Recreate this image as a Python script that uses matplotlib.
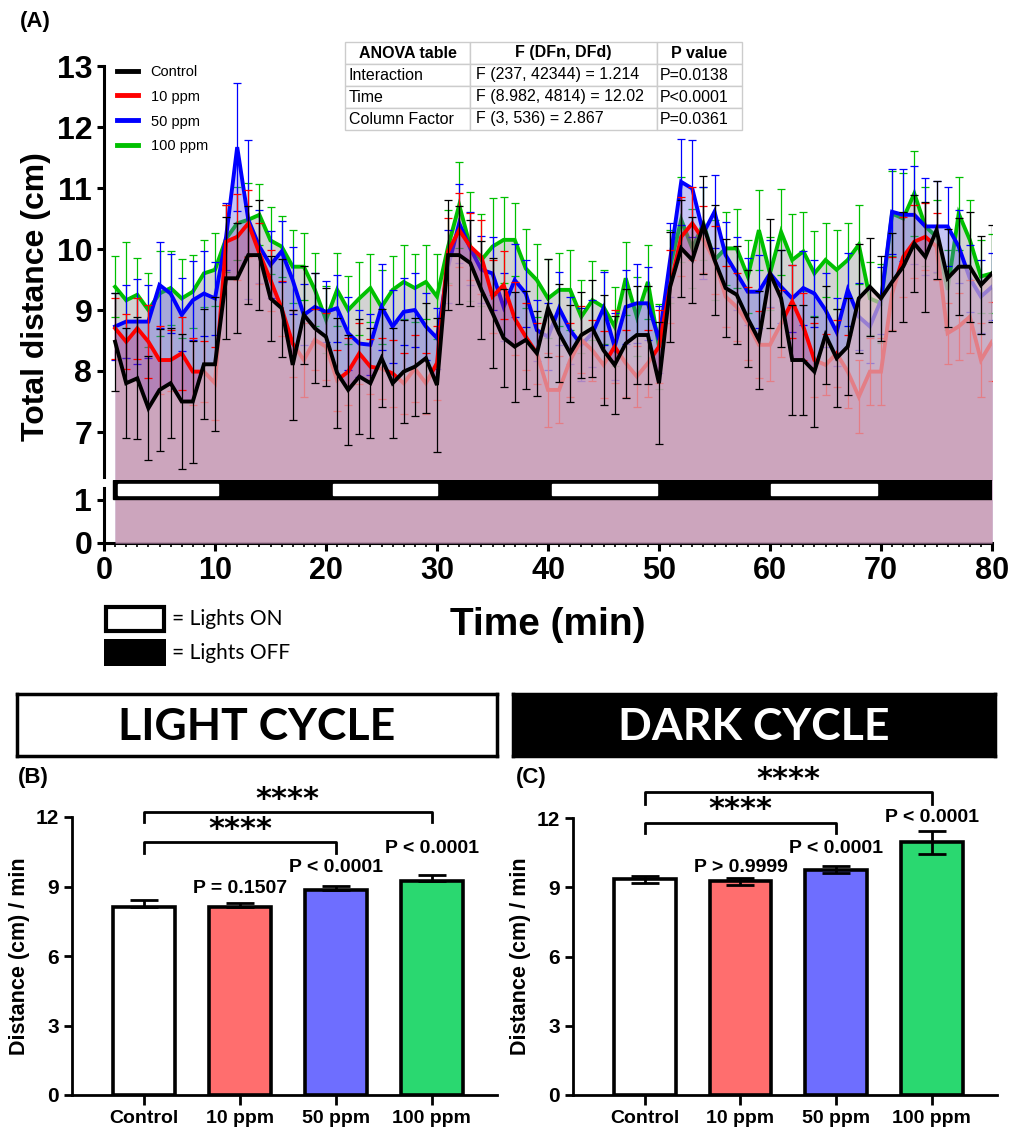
import matplotlib
matplotlib.use("Agg")
import matplotlib.pyplot as plt
from matplotlib.lines import Line2D
from matplotlib.patches import Rectangle
import numpy as np

plt.rcParams['font.family'] = ['Liberation Sans', 'DejaVu Sans']

# ---- panel A data (mean and SEM per minute) ----
minutes = list(range(1, 81))
control = [8.48, 7.80, 7.88, 7.39, 7.69, 7.80, 7.50, 7.50, 8.11, 8.11,
           9.52, 9.52, 9.90, 9.90, 9.19, 9.03, 8.10, 8.92, 8.70, 8.56,
           7.97, 7.69, 7.91, 7.80, 8.21, 7.80, 7.99, 8.07, 8.21, 7.77,
           9.90, 9.90, 9.77, 9.33, 8.95, 8.54, 8.40, 8.51, 8.29, 9.03,
           8.62, 8.29, 8.59, 8.70, 8.34, 8.10, 8.45, 8.59, 8.59, 7.80,
           9.38, 10.01, 9.82, 10.39, 9.82, 9.36, 9.25, 8.86, 8.51, 9.60,
           9.19, 8.18, 8.18, 7.99, 8.59, 8.21, 8.40, 9.19, 9.38, 9.19,
           9.46, 9.71, 10.09, 9.87, 10.31, 9.52, 9.71, 9.71, 9.41, 9.60]
ppm10 = [8.70, 8.48, 8.70, 8.48, 8.18, 8.18, 8.29, 7.99, 7.99, 7.80,
         10.12, 10.20, 10.42, 9.93, 9.49, 9.03, 8.45, 8.18, 8.51, 8.40,
         7.85, 7.99, 8.29, 8.07, 8.04, 7.96, 7.80, 8.04, 7.80, 8.13,
         9.96, 10.31, 10.04, 9.87, 9.22, 9.41, 8.86, 8.56, 8.29, 7.69,
         7.69, 8.18, 8.51, 8.34, 8.10, 8.40, 8.13, 7.91, 8.13, 8.40,
         9.38, 10.20, 10.42, 10.15, 9.82, 9.22, 9.05, 8.78, 8.43, 8.43,
         8.78, 9.14, 8.73, 8.18, 8.10, 8.29, 7.99, 7.58, 7.99, 7.99,
         9.27, 9.87, 10.12, 10.20, 10.04, 8.62, 8.73, 8.89, 8.18, 8.48]
ppm50 = [8.73, 8.81, 8.81, 8.81, 9.41, 9.27, 8.92, 9.16, 9.27, 9.19,
         10.20, 11.67, 10.48, 10.04, 9.74, 9.96, 9.49, 8.92, 9.05, 8.97,
         9.03, 8.62, 8.45, 8.43, 9.05, 8.73, 8.97, 9.00, 8.73, 8.54,
         9.71, 10.42, 10.01, 9.66, 9.60, 9.05, 9.49, 9.27, 8.67, 8.56,
         9.03, 8.67, 8.43, 8.62, 9.03, 8.40, 9.05, 9.11, 9.11, 8.51,
         9.82, 11.10, 10.99, 10.26, 10.61, 9.90, 9.60, 9.30, 9.30, 9.60,
         9.38, 9.19, 9.36, 9.27, 9.00, 8.64, 9.33, 8.89, 8.73, 9.16,
         10.61, 10.56, 10.56, 10.37, 10.37, 10.37, 10.04, 9.52, 9.22, 9.38]
ppm100 = [9.38, 9.16, 9.25, 9.00, 9.27, 9.36, 9.19, 9.30, 9.60, 9.66,
          10.17, 10.42, 10.48, 10.56, 10.14, 10.04, 9.71, 9.71, 9.33, 8.84,
          9.33, 9.00, 9.19, 9.36, 9.05, 9.33, 9.46, 9.36, 9.46, 9.22,
          10.04, 10.72, 10.04, 9.82, 10.04, 10.15, 10.15, 9.68, 9.49, 9.19,
          9.33, 9.33, 8.89, 9.16, 9.05, 8.73, 9.52, 8.89, 9.46, 8.40,
          9.71, 10.48, 10.01, 10.42, 9.82, 10.01, 10.01, 9.55, 10.31, 9.60,
          10.28, 9.82, 9.96, 9.60, 9.82, 9.66, 9.82, 10.07, 9.19, 9.11,
          10.58, 10.50, 10.91, 10.37, 10.20, 9.33, 10.58, 10.15, 9.55, 9.60]

control_err = [0.80, 0.90, 1.00, 0.85, 1.00, 0.90, 1.10, 1.00, 0.90, 1.10,
               1.00, 0.90, 0.80, 0.90, 0.70, 0.80, 0.90, 0.80, 0.90, 0.80,
               0.90, 0.90, 0.95, 0.90, 0.80, 0.90, 0.85, 0.80, 0.90, 1.10,
               0.90, 0.80, 0.70, 0.80, 0.90, 0.80, 0.90, 0.80, 0.70, 0.80,
               0.80, 0.80, 0.70, 0.80, 0.90, 0.80, 0.90, 0.80, 0.80, 1.00,
               0.90, 0.80, 0.70, 0.80, 0.90, 0.80, 0.80, 0.80, 0.80, 0.90,
               0.80, 0.90, 0.90, 0.90, 0.80, 0.80, 0.80, 0.90, 0.80, 0.70,
               0.80, 0.90, 0.80, 0.90, 0.80, 0.80, 0.80, 0.90, 0.80, 0.80]
ppm10_err = [0.50, 0.45, 0.50, 0.60, 0.55, 0.50, 0.60, 0.55, 0.50, 0.60,
             0.60, 0.70, 0.55, 0.50, 0.50, 0.45, 0.55, 0.60, 0.50, 0.55,
             0.50, 0.55, 0.50, 0.45, 0.50, 0.55, 0.50, 0.55, 0.50, 0.60,
             0.55, 0.60, 0.55, 0.60, 0.60, 0.55, 0.60, 0.55, 0.50, 0.60,
             0.55, 0.60, 0.55, 0.50, 0.55, 0.60, 0.55, 0.50, 0.55, 0.60,
             0.60, 0.65, 0.60, 0.55, 0.55, 0.50, 0.55, 0.60, 0.55, 0.60,
             0.55, 0.60, 0.55, 0.60, 0.50, 0.55, 0.60, 0.60, 0.55, 0.55,
             0.60, 0.65, 0.60, 0.55, 0.55, 0.50, 0.55, 0.60, 0.60, 0.65]
ppm50_err = [0.55, 0.60, 0.70, 0.60, 0.70, 0.65, 0.60, 0.65, 0.70, 0.60,
             0.55, 1.05, 1.30, 0.60, 0.55, 0.50, 0.55, 0.50, 0.55, 0.50,
             0.55, 0.60, 0.55, 0.50, 0.70, 0.60, 0.55, 0.60, 0.55, 0.50,
             0.60, 0.65, 0.60, 0.55, 0.60, 0.55, 0.60, 0.55, 0.50, 0.55,
             0.60, 0.55, 0.60, 0.55, 0.60, 0.55, 0.60, 0.65, 0.60, 0.55,
             0.60, 0.70, 0.80, 0.75, 0.60, 0.55, 0.60, 0.55, 0.60, 0.55,
             0.60, 0.55, 0.60, 0.55, 0.60, 0.55, 0.60, 0.55, 0.60, 0.55,
             0.70, 0.75, 0.80, 0.80, 0.75, 0.65, 0.60, 0.55, 0.60, 0.55]
ppm100_err = [0.50, 0.95, 0.60, 0.60, 0.70, 0.60, 0.65, 0.60, 0.55, 0.60,
              0.55, 0.60, 0.60, 0.50, 0.55, 0.50, 0.60, 0.55, 0.60, 0.55,
              0.60, 0.55, 0.60, 0.55, 0.60, 0.55, 0.60, 0.55, 0.60, 0.70,
              0.60, 0.70, 0.90, 0.75, 0.80, 0.70, 0.60, 0.65, 0.60, 0.65,
              0.60, 0.65, 0.60, 0.65, 0.60, 0.65, 0.60, 0.65, 0.60, 0.70,
              0.60, 0.70, 0.65, 0.60, 0.65, 0.60, 0.65, 0.60, 0.65, 0.60,
              0.70, 0.75, 0.65, 0.70, 0.60, 0.65, 0.60, 0.65, 0.60, 0.65,
              0.70, 0.75, 0.70, 0.65, 0.60, 0.65, 0.60, 0.65, 0.60, 0.65]

lights_on = [(1.3, 10.3), (20.6, 30.0), (40.4, 49.8), (60.1, 69.6)]

anova_header = ["ANOVA table", "F (DFn, DFd)", "P value"]
anova_rows = [["Interaction", "F (237, 42344) = 1.214", "P=0.0138"],
              ["Time", "F (8.982, 4814) = 12.02", "P<0.0001"],
              ["Column Factor", "F (3, 536) = 2.867", "P=0.0361"]]

# ---- panels B and C ----
groups = ["Control", "10 ppm", "50 ppm", "100 ppm"]
light_mean = [8.12, 8.12, 8.84, 9.22]
light_sem = [0.29, 0.18, 0.17, 0.29]
light_p = ["", "P = 0.1507", "P < 0.0001", "P < 0.0001"]
dark_mean = [9.35, 9.25, 9.75, 10.94]
dark_sem = [0.15, 0.14, 0.15, 0.50]
dark_p = ["", "P > 0.9999", "P < 0.0001", "P < 0.0001"]
bar_colors = ["white", "#ff6e6e", "#6e6eff", "#2ad870"]

W, H = 1024, 1131
fig = plt.figure(figsize=(W / 100, H / 100), dpi=100)


def rect(x0, y0, x1, y1):
    return [x0 / W, 1 - y1 / H, (x1 - x0) / W, (y1 - y0) / H]


ax_top = fig.add_axes(rect(104, 66, 992, 480))
ax_bot = fig.add_axes(rect(104, 480, 992, 543))

series = [
    (ppm100, ppm100_err, "#00c000", "#b0b0b0", 0.55),
    (ppm50, ppm50_err, "#0000ff", "#5a5ae6", 0.35),
    (ppm10, ppm10_err, "#ff0000", "#c83c78", 0.35),
    (control, control_err, "#000000", "#d8b4c0", 0.70),
]
t = np.array(minutes)
for i, (vals, err, lc, fc, fa) in enumerate(series):
    z = 2 + i * 3
    for ax in (ax_top, ax_bot):
        ax.fill_between(t, 0, vals, color=fc, alpha=fa, lw=0, zorder=z)
    ax_top.errorbar(t, vals, yerr=err, fmt="none", ecolor=lc, elinewidth=0.9,
                    capsize=3, capthick=0.9, zorder=z + 1)
    ax_top.plot(t, vals, color=lc, lw=2.8, zorder=z + 2, solid_joinstyle="miter")

for ax in (ax_top, ax_bot):
    ax.set_xlim(0, 80)
    ax.patch.set_alpha(0)
    ax.spines["top"].set_visible(False)
    ax.spines["right"].set_visible(False)
    ax.spines["left"].set_linewidth(2.2)
    ax.tick_params(axis="y", width=2.2, length=5, labelsize=23)

ax_top.set_ylim(13 - 414 / 61, 13)
ax_top.spines["bottom"].set_visible(False)
ax_top.spines["left"].set_bounds(6.26, 13)
ax_top.set_xticks([])
ax_top.set_yticks([7, 8, 9, 10, 11, 12, 13])
for lab in ax_top.get_yticklabels():
    lab.set_fontweight("bold")

ax_bot.set_ylim(0, 63 / 43)
ax_bot.spines["left"].set_bounds(0, 1.28)
ax_bot.spines["bottom"].set_linewidth(2.2)
ax_bot.set_yticks([0, 1])
ax_bot.set_xticks(range(0, 81, 10))
ax_bot.set_xticks(range(0, 81), minor=True)
ax_bot.tick_params(axis="x", which="major", width=2.2, length=6)
ax_bot.tick_params(axis="x", which="minor", width=1.2, length=3)
for lab in ax_bot.get_yticklabels():
    lab.set_fontweight("bold")
ax_bot.set_xticklabels([str(v) for v in range(0, 81, 10)],
                       family=["Liberation Sans Narrow", "Liberation Sans"],
                       fontweight="bold", fontsize=22)

# light schedule band
ax_bot.add_patch(Rectangle((0.8, 1.02), 79.2, 0.445, color="black", zorder=20))
for s, e in lights_on:
    ax_bot.add_patch(Rectangle((s, 1.12), e - s, 0.25, color="white", zorder=21))

fig.text(36 / W, 1 - 297 / H, "Total distance (cm)", rotation=90, ha="center", va="center",
         fontsize=23, fontweight="bold")
fig.text(548 / W, 1 - 625 / H, "Time (min)", ha="center", va="center", fontsize=28,
         fontweight="bold", family=["Liberation Sans Narrow", "Liberation Sans"])

handles = [Line2D([], [], color=c, lw=3.5) for c in ["#000000", "#ff0000", "#0000ff", "#00c000"]]
ax_top.legend(handles, ["Control", "10 ppm", "50 ppm", "100 ppm"], loc="upper left",
              bbox_to_anchor=(0.0, 1.035), frameon=False, fontsize=10.5,
              handlelength=1.4, labelspacing=0.75, handletextpad=0.9)

tab = ax_top.table(cellText=anova_rows, colLabels=anova_header, cellLoc="left",
                   colLoc="center", colWidths=[0.315, 0.471, 0.214],
                   bbox=[(345 - 104) / 888, (480 - 130) / 414, 397 / 888, 88 / 414])
tab.auto_set_font_size(False)
tab.set_fontsize(11.5)
tab.set_zorder(30)
for (r, c), cell in tab.get_celld().items():
    cell.set_edgecolor("#cccccc")
    cell.set_linewidth(1.0)
    cell.PAD = 0.03
    if r == 0:
        cell.get_text().set_fontweight("bold")

fig.text(20 / W, 1 - 22 / H, "(A)", fontsize=16, fontweight="bold", va="center")

# lights legend
fig.add_artist(Rectangle((106 / W, 1 - 631 / H), 58 / W, 24 / H, transform=fig.transFigure,
                         facecolor="white", edgecolor="black", lw=3))
fig.add_artist(Rectangle((104 / W, 1 - 666 / H), 62 / W, 27 / H, transform=fig.transFigure,
                         facecolor="black", edgecolor="black", lw=0))
fig.text(172 / W, 1 - 619 / H, "= Lights ON", fontsize=15, family=["Lato", "DejaVu Sans"],
         va="center")
fig.text(172 / W, 1 - 653 / H, "= Lights OFF", fontsize=15, family=["Lato", "DejaVu Sans"],
         va="center")

# cycle header boxes
for (x0, x1), label, fc, tc in [((17, 497), "LIGHT CYCLE", "white", "black"),
                                ((513, 995), "DARK CYCLE", "black", "white")]:
    hb = fig.add_axes(rect(x0, 694, x1, 756))
    hb.set_xticks([])
    hb.set_yticks([])
    hb.set_facecolor(fc)
    for sp in hb.spines.values():
        sp.set_linewidth(2.5)
    hb.text(0.5, 0.47, label, ha="center", va="center", color=tc, fontsize=32,
            fontweight="bold", family=["Lato", "DejaVu Sans"], transform=hb.transAxes)


def bar_panel(box, means, sems, pvals, tag, tag_x, upper_only, brk, p_y):
    ax = fig.add_axes(rect(*box))
    x = np.arange(len(groups))
    ax.bar(x, means, width=0.645, color=bar_colors, edgecolor="black", lw=2.6, zorder=2)
    lo = [0] * len(sems) if upper_only else sems
    ax.errorbar(x, means, yerr=[lo, sems], fmt="none", ecolor="black", elinewidth=2,
                capsize=10, capthick=2, zorder=3)
    ax.set_xlim(-0.75, 3.68)
    ax.set_ylim(0, 12)
    ax.set_yticks([0, 3, 6, 9, 12])
    ax.set_xticks(x)
    ax.set_xticklabels(groups, fontsize=14, fontweight="bold")
    for lab in ax.get_yticklabels():
        lab.set_fontweight("bold")
    ax.tick_params(axis="y", labelsize=15, width=2, length=6)
    ax.tick_params(axis="x", width=2, length=7)
    ax.spines["top"].set_visible(False)
    ax.spines["right"].set_visible(False)
    ax.spines["left"].set_linewidth(2)
    ax.spines["bottom"].set_linewidth(2)
    ax.set_ylabel("Distance (cm) / min", fontsize=15.5, fontweight="bold", labelpad=4)
    for i, p in enumerate(pvals):
        if p:
            ax.text(i, p_y[i], p, ha="center", va="center", fontsize=14, fontweight="bold")
    for (x1, ybar, yend, ystar) in brk:
        ax.plot([0, 0, x1, x1], [yend, ybar, ybar, yend], color="black", lw=2,
                clip_on=False)
        ax.text(x1 / 2, ystar, "****", ha="center", va="center", fontsize=22,
                fontweight="bold", family=["DejaVu Sans"], clip_on=False)
    fig.text(tag_x / W, 1 - 777 / H, tag, fontsize=16, fontweight="bold", va="center")
    return ax


bar_panel((72, 817, 497, 1095), light_mean, light_sem, light_p, "(B)", 18, True,
          [(3, 12.21, 11.78, 12.75), (2, 10.92, 10.45, 11.45)],
          [0, 8.93, 9.80, 10.66])
bar_panel((573, 818, 997, 1095), dark_mean, dark_sem, dark_p, "(C)", 516, False,
          [(3, 13.12, 12.6, 13.65), (2, 11.78, 11.35, 12.35)],
          [0, 9.84, 10.66, 12.0])

fig.savefig("out.png", dpi=100)
